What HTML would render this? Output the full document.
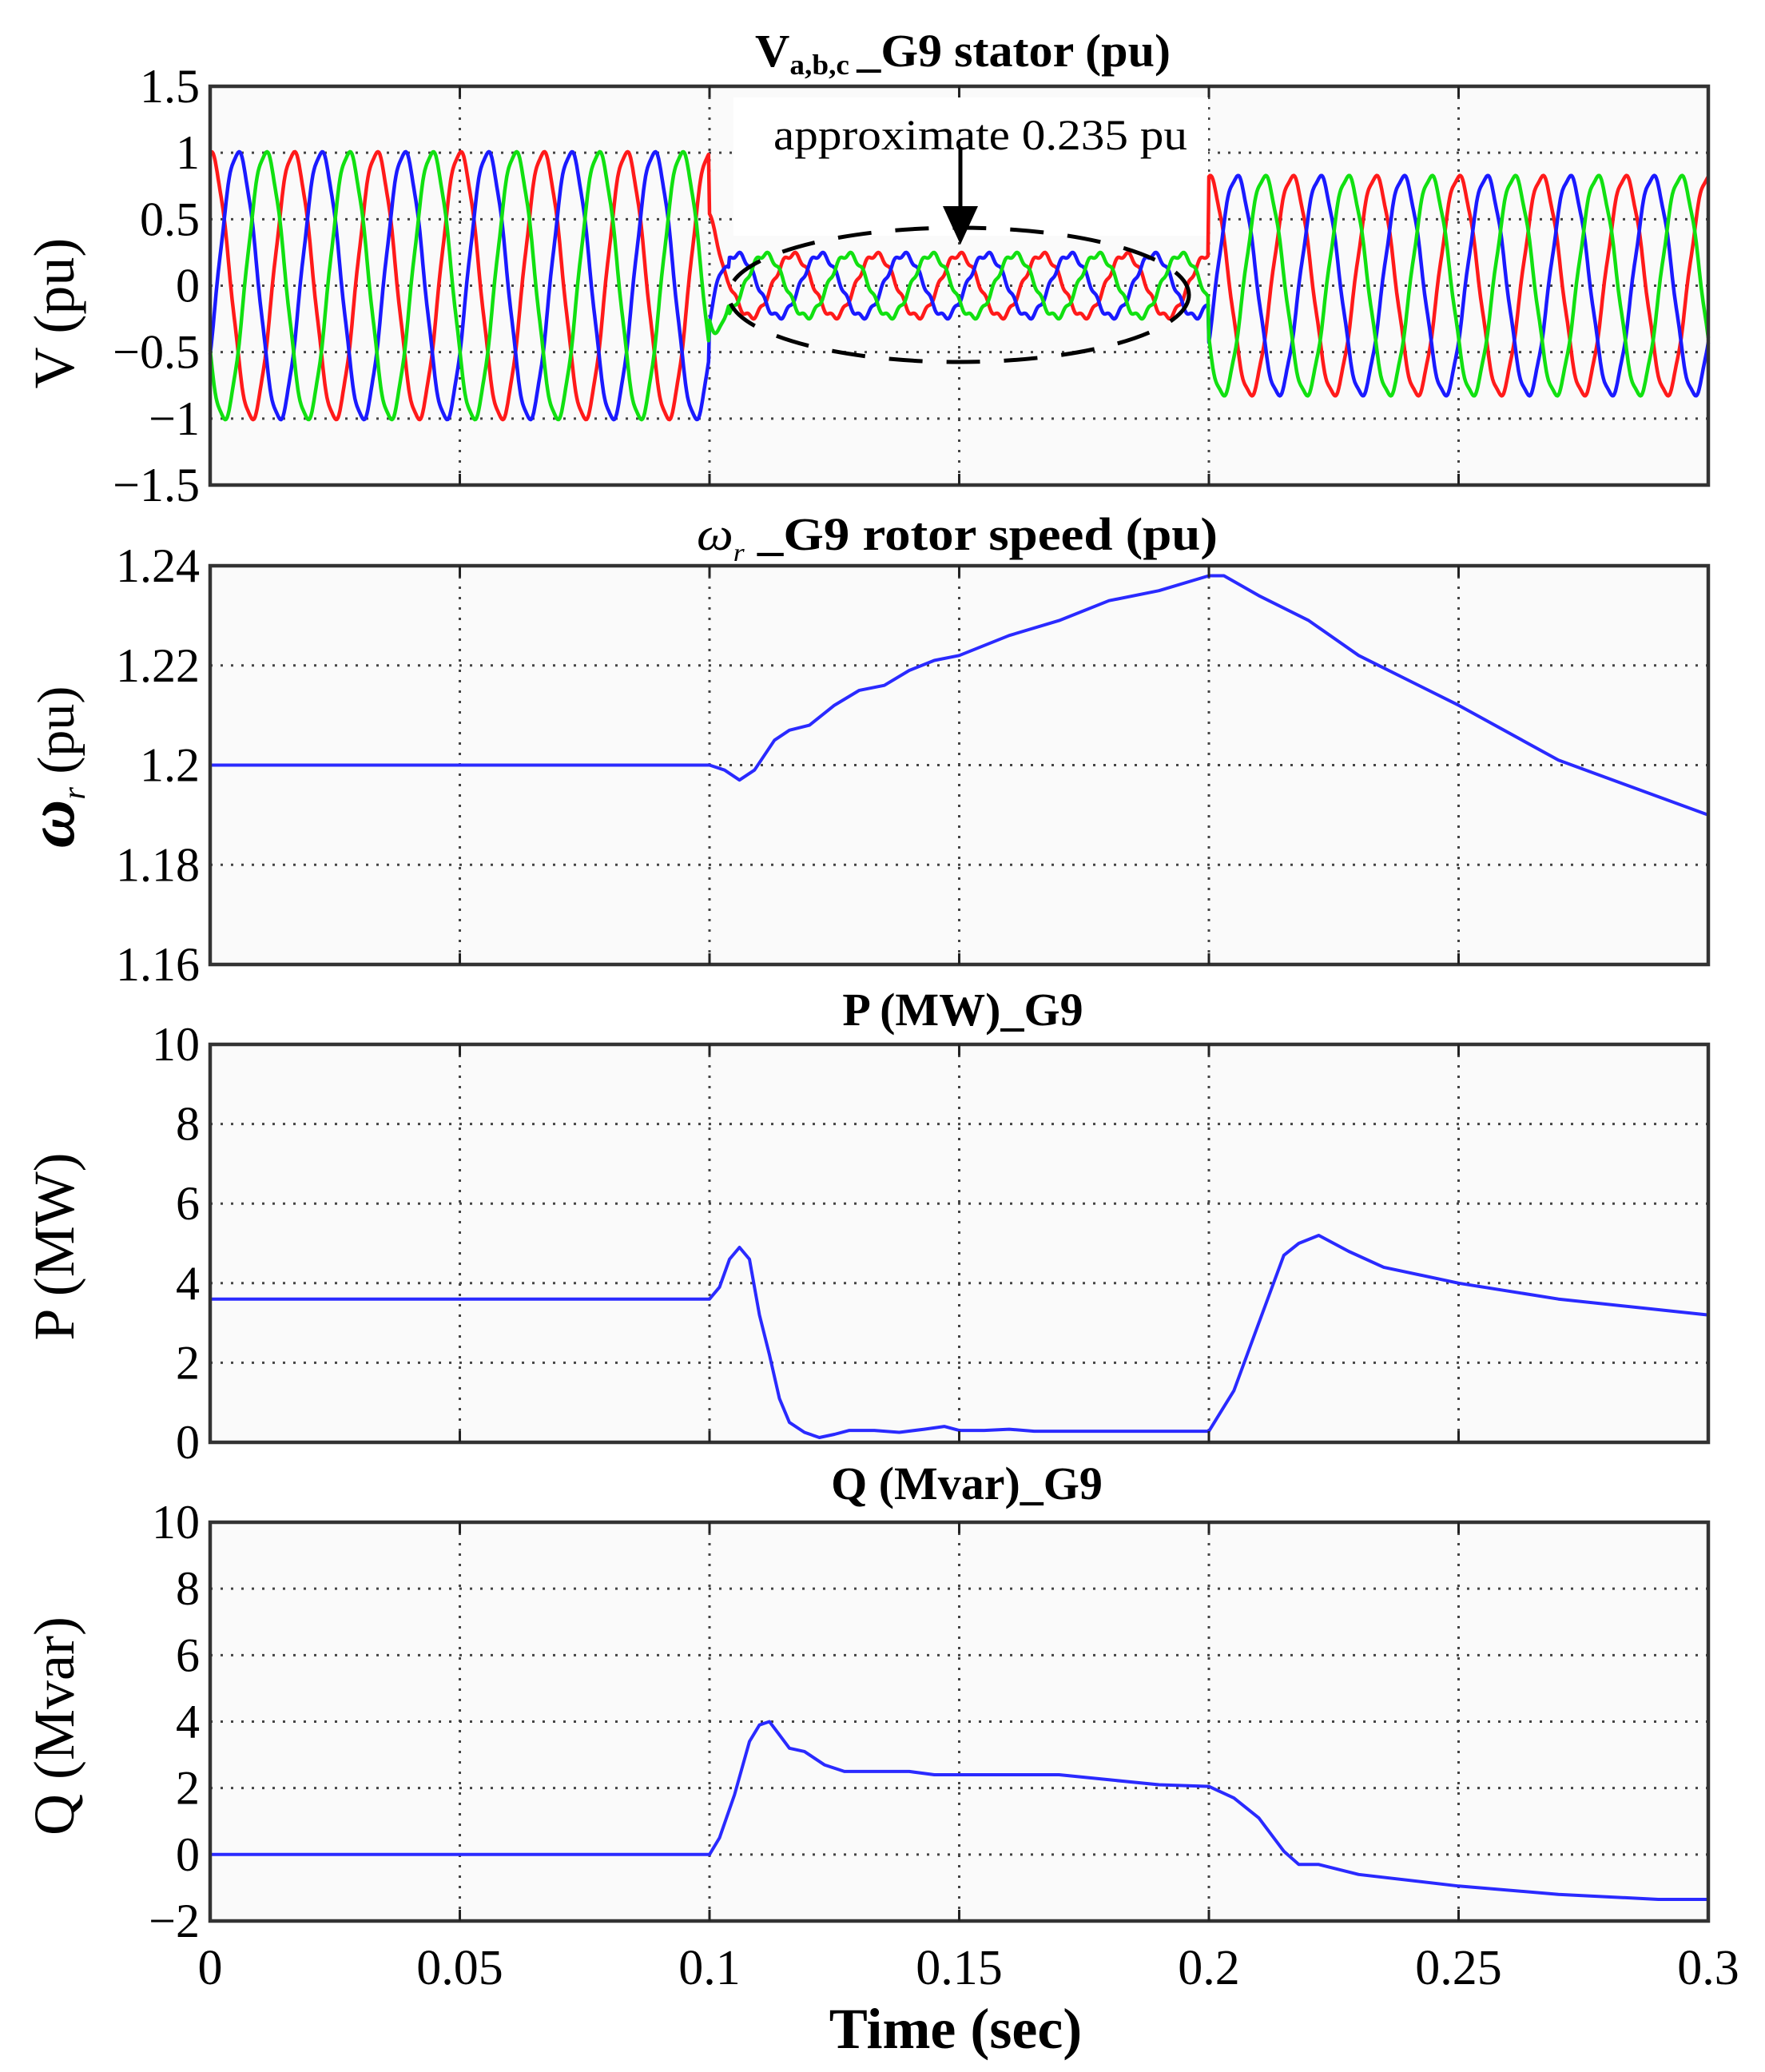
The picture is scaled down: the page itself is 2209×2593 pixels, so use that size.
<!DOCTYPE html>
<html><head><meta charset="utf-8">
<style>
html,body{margin:0;padding:0;background:#fff;}
svg{display:block;}
text{font-family:"Liberation Serif",serif;fill:#000;}
</style></head>
<body>
<svg id="s" width="2209" height="2593" viewBox="0 0 2209 2593" xmlns="http://www.w3.org/2000/svg"></svg>
<script>
const S=document.getElementById('s');
const X0=263,X1=2138;
const panels=[
 {top:108,bot:607,ymin:-1.5,ymax:1.5,ticks:[-1.5,-1,-0.5,0,0.5,1,1.5],lab:t=>t<0?'\u2212'+(-t):String(t)},
 {top:708,bot:1207,ymin:1.16,ymax:1.24,ticks:[1.16,1.18,1.2,1.22,1.24],lab:t=>String(t)},
 {top:1307,bot:1805,ymin:0,ymax:10,ticks:[0,2,4,6,8,10],lab:t=>String(t)},
 {top:1905,bot:2404,ymin:-2,ymax:10,ticks:[-2,0,2,4,6,8,10],lab:t=>t<0?'\u2212'+(-t):String(t)}
];
let h='';
const tx=t=>X0+(X1-X0)*t/0.3;
function ty(p,v){return p.bot-(v-p.ymin)/(p.ymax-p.ymin)*(p.bot-p.top);}
panels.forEach((p,i)=>{
 h+=`<rect x="${X0}" y="${p.top}" width="${X1-X0}" height="${p.bot-p.top}" fill="#fafafa"/>`;
 for(let k=1;k<6;k++){const x=tx(k*0.05);h+=`<line x1="${x}" y1="${p.top}" x2="${x}" y2="${p.bot}" stroke="#444" stroke-width="3" stroke-dasharray="3,10"/>`;}
 p.ticks.forEach(t=>{const y=ty(p,t);
  if(t!==p.ymin&&t!==p.ymax)h+=`<line x1="${X0}" y1="${y}" x2="${X1}" y2="${y}" stroke="#444" stroke-width="3" stroke-dasharray="3,10"/>`;
  h+=`<text x="250" y="${y+20}" font-size="60" text-anchor="end">${p.lab(t)}</text>`;});
});
h+=`<rect x="918" y="122" width="594" height="173" fill="#fff"/>`;
function path(pts,c,w){return `<polyline fill="none" stroke="${c}" stroke-width="${w}" stroke-linejoin="round" points="${pts.map(q=>q[0].toFixed(1)+','+q[1].toFixed(1)).join(' ')}"/>`;}
const p0=panels[0];const w=2*Math.PI*60;
[['#ff1a1a',0],['#1a1aff',-2*Math.PI/3],['#11e011',2*Math.PI/3]].forEach(([c,ph])=>{
 const pts=[];
 for(let t=0;t<=0.3;t+=0.0002){
  let a;
  if(t<0.1)a=1.0;else if(t<0.2)a=0.235;else a=0.82;
  let v=a*Math.cos(w*t+ph)+0.02*Math.sin(w*t*7+ph);
  if(t>=0.1&&t<0.104)v=v*0.6+0.4*Math.cos(w*t+ph)*((0.104-t)/0.004);
  pts.push([tx(t),ty(p0,v)]);}
 h+=path(pts,c,4.5);
});
function curve(p,data){return path(data.map(d=>[tx(d[0]),ty(p,d[1])]),'#2a2aff',4);}
h+=curve(panels[1],[[0,1.2],[0.1,1.2],[0.103,1.199],[0.106,1.197],[0.109,1.199],[0.113,1.205],[0.116,1.207],[0.12,1.208],[0.125,1.212],[0.13,1.215],[0.135,1.216],[0.14,1.219],[0.145,1.221],[0.15,1.222],[0.16,1.226],[0.17,1.229],[0.18,1.233],[0.19,1.235],[0.2,1.238],[0.203,1.238],[0.21,1.234],[0.22,1.229],[0.23,1.222],[0.25,1.212],[0.27,1.201],[0.3,1.19]]);
h+=curve(panels[2],[[0,3.6],[0.1,3.6],[0.102,3.9],[0.104,4.6],[0.106,4.9],[0.108,4.6],[0.11,3.2],[0.112,2.2],[0.114,1.1],[0.116,0.5],[0.119,0.25],[0.122,0.12],[0.125,0.2],[0.128,0.3],[0.133,0.3],[0.138,0.25],[0.143,0.33],[0.147,0.4],[0.15,0.3],[0.155,0.3],[0.16,0.33],[0.165,0.28],[0.2,0.28],[0.205,1.3],[0.21,3.0],[0.215,4.7],[0.218,5.0],[0.222,5.2],[0.228,4.8],[0.235,4.4],[0.25,4.0],[0.27,3.6],[0.3,3.2]]);
h+=curve(panels[3],[[0,0],[0.1,0],[0.102,0.5],[0.105,1.8],[0.108,3.4],[0.11,3.9],[0.112,4.0],[0.114,3.6],[0.116,3.2],[0.119,3.1],[0.123,2.7],[0.127,2.5],[0.14,2.5],[0.145,2.4],[0.15,2.4],[0.17,2.4],[0.18,2.25],[0.19,2.1],[0.2,2.05],[0.205,1.7],[0.21,1.1],[0.215,0.1],[0.218,-0.3],[0.222,-0.3],[0.23,-0.6],[0.25,-0.95],[0.27,-1.2],[0.29,-1.35],[0.3,-1.35]]);
panels.forEach(p=>{
 h+=`<rect x="${X0}" y="${p.top}" width="${X1-X0}" height="${p.bot-p.top}" fill="none" stroke="#333" stroke-width="4.5"/>`;
 for(let k=1;k<6;k++){const x=tx(k*0.05);h+=`<line x1="${x}" y1="${p.top}" x2="${x}" y2="${p.top+14}" stroke="#222" stroke-width="3"/><line x1="${x}" y1="${p.bot}" x2="${x}" y2="${p.bot-14}" stroke="#222" stroke-width="3"/>`;}
});
h+=`<ellipse cx="1200" cy="369" rx="288" ry="84" fill="none" stroke="#000" stroke-width="5" stroke-dasharray="42,30"/>`;
h+=`<line x1="1202" y1="185" x2="1202" y2="265" stroke="#000" stroke-width="5"/><polygon points="1180,258 1224,258 1202,306" fill="#000"/>`;
h+=`<text x="968" y="187" font-size="54" textLength="518" lengthAdjust="spacingAndGlyphs">approximate 0.235 pu</text>`;
h+=`<text x="945" y="83" font-size="58" font-weight="bold" textLength="520" lengthAdjust="spacingAndGlyphs">V<tspan font-size="36" dy="10">a,b,c </tspan><tspan dy="-10">_G9 stator (pu)</tspan></text>`;
h+=`<text x="872" y="688" font-size="58" font-weight="bold" textLength="652" lengthAdjust="spacingAndGlyphs"><tspan font-style="italic" font-weight="normal">ω</tspan><tspan font-size="32" font-style="italic" font-weight="normal" dy="14">r</tspan><tspan dy="-14">   _G9 rotor speed  (pu)</tspan></text>`;
h+=`<text x="1205" y="1283" font-size="58" font-weight="bold" text-anchor="middle">P (MW)_G9</text>`;
h+=`<text x="1210" y="1876" font-size="58" font-weight="bold" text-anchor="middle">Q (Mvar)_G9</text>`;
h+=`<text transform="translate(92,392) rotate(-90)" font-size="72" text-anchor="middle">V (pu)</text>`;
h+=`<text transform="translate(92,960) rotate(-90)" font-size="66" text-anchor="middle"><tspan font-style="italic" font-weight="bold" font-size="84">ω</tspan><tspan font-style="italic" font-size="40" dy="14">r</tspan><tspan dy="-14"> (pu)</tspan></text>`;
h+=`<text transform="translate(92,1560) rotate(-90)" font-size="72" text-anchor="middle">P (MW)</text>`;
h+=`<text transform="translate(92,2160) rotate(-90)" font-size="72" text-anchor="middle">Q (Mvar)</text>`;
['0','0.05','0.1','0.15','0.2','0.25','0.3'].forEach((l,k)=>{h+=`<text x="${tx(k*0.05)}" y="2483" font-size="62" text-anchor="middle">${l}</text>`;});
h+=`<text x="1196" y="2563" font-size="72" font-weight="bold" text-anchor="middle">Time (sec)</text>`;
S.innerHTML=h;
</script>
</body></html>
